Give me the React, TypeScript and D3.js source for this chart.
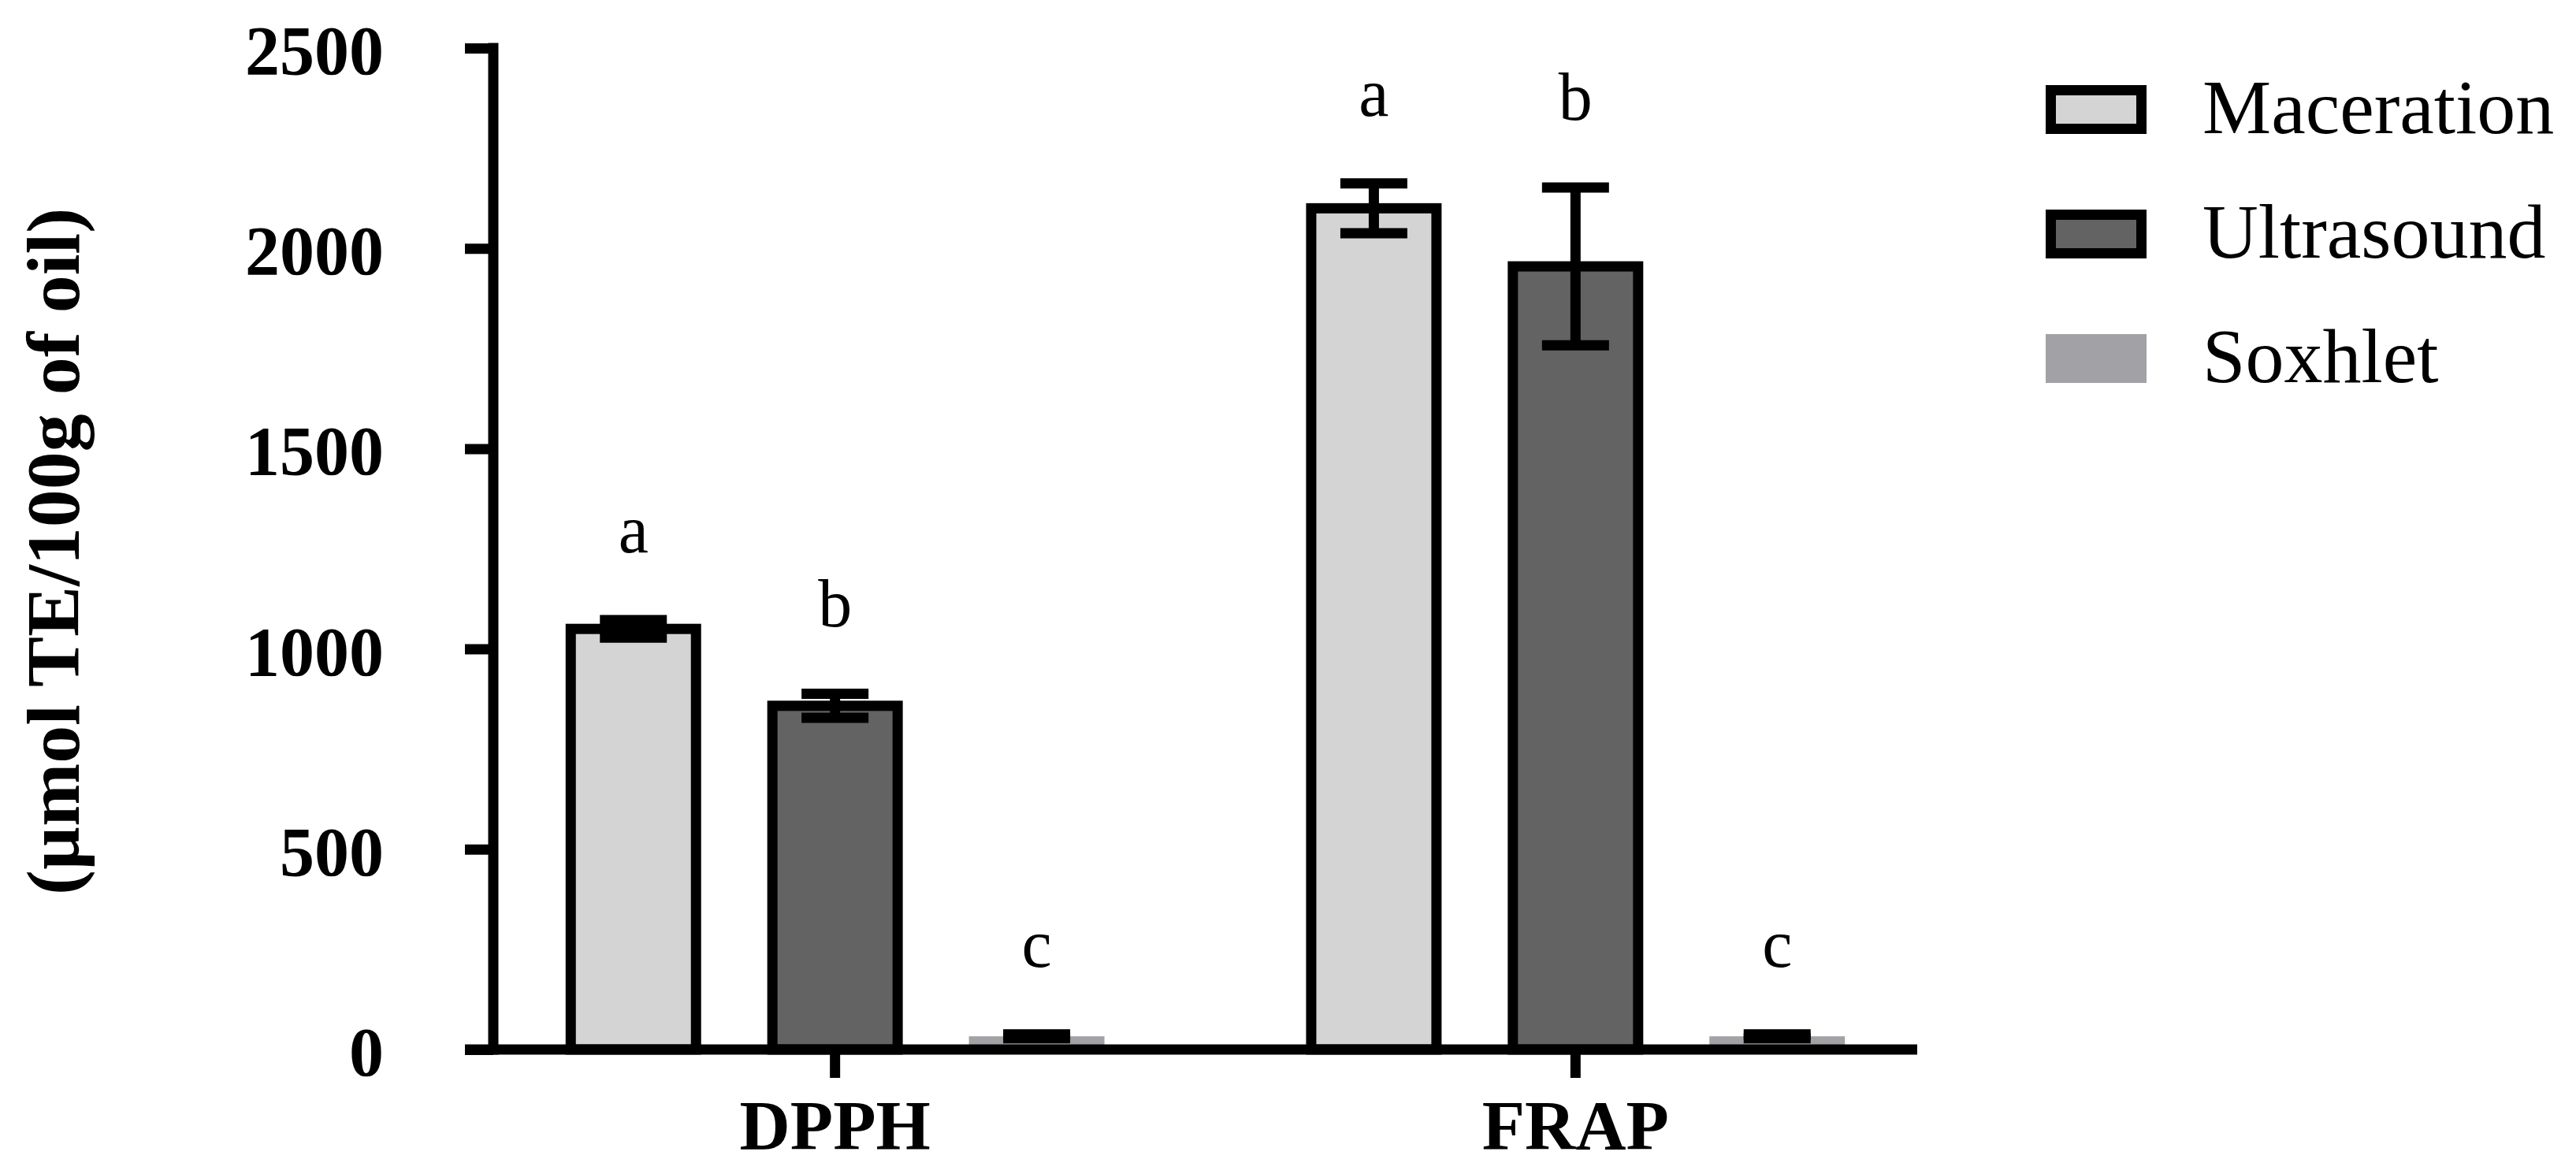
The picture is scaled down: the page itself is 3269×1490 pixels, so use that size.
import React from 'react';
import { axisBottom, axisLeft, scaleBand, scaleLinear, select } from 'd3';

// data
const categories = ['DPPH', 'FRAP'];
const methods = ['Maceration', 'Ultrasound', 'Soxhlet'];
const macerationMean = [1050, 2100];
const macerationSd = [22, 62];
const ultrasoundMean = [858, 1955];
const ultrasoundSd = [30, 197];
const soxhletMean = [33, 33];
const soxhletSd = [5, 5];
const dpphLetters = ['a', 'b', 'c'];
const frapLetters = ['a', 'b', 'c'];
const yTicks = [0, 500, 1000, 1500, 2000, 2500];
const yTitle = '(µmol TE/100g of oil)';

const colors = ['#d4d4d4', '#636363', '#a2a2a6'];
const bordered = [true, true, false];
const FONT = '"Liberation Serif", "Times New Roman", Times, serif';

const WIDTH = 3269;
const HEIGHT = 1490;

const App = () => {
    const svgRef = React.useRef(null);

    React.useEffect(() => {
        const svg = select(svgRef.current);
        svg.selectAll('*').remove();

        const means = [macerationMean, ultrasoundMean, soxhletMean];
        const sds = [macerationSd, ultrasoundSd, soxhletSd];
        const letters = [dpphLetters, frapLetters];

        const rows = [];
        categories.forEach((cat, ci) => {
            methods.forEach((m, mi) => {
                rows.push({
                    cat,
                    method: m,
                    mi,
                    mean: means[mi][ci],
                    sd: sds[mi][ci],
                    letter: letters[ci][mi]
                });
            });
        });

        // scales
        const y = scaleLinear().domain([0, 2500]).range([1332, 61]);
        const x0 = scaleBand()
            .domain(categories)
            .range([626, 2433])
            .paddingInner(0.183)
            .paddingOuter(0.053);
        const x1 = scaleBand()
            .domain(methods)
            .range([0, x0.bandwidth()])
            .paddingInner(0.328)
            .paddingOuter(0.164);

        const sw = 13;
        const g = svg.append('g').style('font-family', FONT);

        // bars
        g.selectAll('.bar')
            .data(rows)
            .enter()
            .append('rect')
            .attr('class', 'bar')
            .attr('x', (d) => x0(d.cat) + x1(d.method) + (bordered[d.mi] ? sw / 2 : 0))
            .attr('width', (d) => x1.bandwidth() - (bordered[d.mi] ? sw : 0))
            .attr('y', (d) => y(d.mean))
            .attr('height', (d) => y(0) - y(d.mean))
            .attr('fill', (d) => colors[d.mi])
            .attr('stroke', (d) => (bordered[d.mi] ? '#000' : 'none'))
            .attr('stroke-width', sw);

        // error bars
        const cx = (d) => x0(d.cat) + x1(d.method) + x1.bandwidth() / 2;
        const capHalf = 42.5;
        const err = g.selectAll('.err').data(rows).enter().append('g').attr('class', 'err');
        err.append('line')
            .attr('x1', cx)
            .attr('x2', cx)
            .attr('y1', (d) => y(d.mean + d.sd))
            .attr('y2', (d) => y(d.mean - d.sd))
            .attr('stroke', '#000')
            .attr('stroke-width', sw);
        [1, -1].forEach((s) => {
            err.append('line')
                .attr('x1', (d) => cx(d) - capHalf)
                .attr('x2', (d) => cx(d) + capHalf)
                .attr('y1', (d) => y(d.mean + s * d.sd))
                .attr('y2', (d) => y(d.mean + s * d.sd))
                .attr('stroke', '#000')
                .attr('stroke-width', sw);
        });

        // significance letters
        g.selectAll('.letter')
            .data(rows)
            .enter()
            .append('text')
            .attr('class', 'letter')
            .attr('x', cx)
            .attr('y', (d) => y(d.mean + d.sd) - 86)
            .attr('text-anchor', 'middle')
            .style('font-family', FONT)
            .style('font-size', '86px')
            .text((d) => d.letter);

        // Y Axis
        const yAxisGroup = g.append('g').attr('transform', `translate(${x0.range()[0]},0)`);
        yAxisGroup.call(
            axisLeft(y)
                .tickValues(yTicks)
                .tickFormat((d) => String(d))
                .tickSize(36)
                .tickPadding(103)
                .tickSizeOuter(0)
        );
        yAxisGroup.select('.domain').remove();
        yAxisGroup.selectAll('line').attr('stroke', '#000').attr('stroke-width', sw);
        yAxisGroup.selectAll('text')
            .attr('dy', '0.37em')
            .attr('fill', '#000')
            .style('font-family', FONT)
            .style('font-weight', 'bold')
            .style('font-size', '88px');
        g.append('line')
            .attr('x1', x0.range()[0])
            .attr('x2', x0.range()[0])
            .attr('y1', y(2500) - sw / 2)
            .attr('y2', y(0) + sw / 2)
            .attr('stroke', '#000')
            .attr('stroke-width', sw);

        // X Axis
        const xAxisGroup = g.append('g').attr('transform', `translate(0,${y(0)})`);
        xAxisGroup.call(axisBottom(x0).tickSize(36).tickPadding(27).tickSizeOuter(0));
        xAxisGroup.select('.domain').remove();
        xAxisGroup.selectAll('line').attr('stroke', '#000').attr('stroke-width', sw);
        xAxisGroup.selectAll('text')
            .attr('fill', '#000')
            .style('font-family', FONT)
            .style('font-weight', 'bold')
            .style('font-size', '89px');
        g.append('line')
            .attr('x1', x0.range()[0] - 36)
            .attr('x2', x0.range()[1])
            .attr('y1', y(0))
            .attr('y2', y(0))
            .attr('stroke', '#000')
            .attr('stroke-width', sw);

        // Y title
        g.append('text')
            .attr('transform', 'translate(100,700) rotate(-90)')
            .attr('text-anchor', 'middle')
            .style('font-family', FONT)
            .style('font-weight', 'bold')
            .style('font-size', '96px')
            .text(yTitle);

        // legend
        const legend = g.selectAll('.legend')
            .data(methods)
            .enter()
            .append('g')
            .attr('class', 'legend')
            .attr('transform', (d, i) => `translate(2596,${108 + i * 158})`);
        legend.append('rect')
            .attr('x', (d, i) => (bordered[i] ? sw / 2 : 0))
            .attr('y', (d, i) => (bordered[i] ? sw / 2 : 0))
            .attr('width', (d, i) => 128 - (bordered[i] ? sw : 0))
            .attr('height', (d, i) => 62 - (bordered[i] ? sw : 0))
            .attr('fill', (d, i) => colors[i])
            .attr('stroke', (d, i) => (bordered[i] ? '#000' : 'none'))
            .attr('stroke-width', sw);
        legend.append('text')
            .attr('x', 199)
            .attr('y', 61)
            .style('font-family', FONT)
            .style('font-size', '98px')
            .text((d) => d);
    }, []);

    return (
        <div style={{ position: 'absolute', left: 0, top: 0 }}>
            <svg ref={svgRef} width={WIDTH} height={HEIGHT} style={{ display: 'block', background: '#fff' }} />
        </div>
    );
};

export default App;
